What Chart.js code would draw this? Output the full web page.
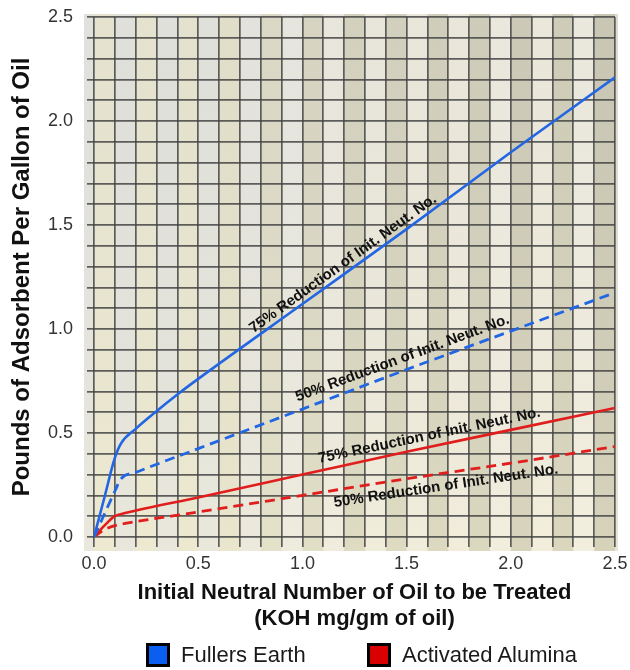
<!DOCTYPE html>
<html>
<head>
<meta charset="utf-8">
<script src="https://cdn.jsdelivr.net/npm/chart.js@4.4.0/dist/chart.umd.min.js"></script>
<style>
  html, body { margin: 0; padding: 0; background: #ffffff; }
  #wrap { position: relative; width: 630px; height: 670px; overflow: hidden; }
  #c { position: absolute; left: 0; top: 0; }
  .leg { position: absolute; top: 643px; height: 24px; display: flex; align-items: center;
         font-family: "Liberation Sans", Arial, sans-serif; font-size: 22px; color: #1a1a1a; white-space: nowrap; }
  .sw { box-sizing: border-box; width: 24px; height: 24px; border: 3px solid #000; margin-right: 11px; }
</style>
</head>
<body>
<div id="wrap">
  <canvas id="c" width="630" height="670" style="width:630px;height:670px"></canvas>
</div>
<script>
// ---------- data ----------
const fullers75X = [0, 0.05, 0.10, 0.13, 0.20, 0.30, 0.40, 0.50, 1.00, 1.50, 2.00, 2.50];
const fullers75Y = [0, 0.19, 0.38, 0.45, 0.52, 0.605, 0.685, 0.76, 1.12, 1.48, 1.85, 2.21];

const fullers50X = [0, 0.05, 0.10, 0.13, 0.20, 0.50, 1.00, 1.50, 2.00, 2.50];
const fullers50Y = [0, 0.11, 0.22, 0.28, 0.31, 0.425, 0.615, 0.805, 0.99, 1.175];

const alumina75X = [0, 0.05, 0.10, 0.15, 0.50, 1.00, 1.50, 2.00, 2.50];
const alumina75Y = [0, 0.055, 0.10, 0.115, 0.19, 0.30, 0.41, 0.515, 0.62];

const alumina50X = [0, 0.05, 0.10, 0.15, 0.50, 1.00, 1.50, 2.00, 2.50];
const alumina50Y = [0, 0.035, 0.055, 0.065, 0.12, 0.20, 0.28, 0.355, 0.435];

const xTickValues = [0, 0.5, 1.0, 1.5, 2.0, 2.5];
const xTickLabels = ['0.0', '0.5', '1.0', '1.5', '2.0', '2.5'];
const yTickValues = [0, 0.5, 1.0, 1.5, 2.0, 2.5];
const yTickLabels = ['0.0', '0.5', '1.0', '1.5', '2.0', '2.5'];

const seriesNames = ['Fullers Earth 75%', 'Fullers Earth 50%', 'Activated Alumina 75%', 'Activated Alumina 50%'];
const curveLabelTexts = [
  '75% Reduction of Init. Neut. No.',
  '50% Reduction of Init. Neut. No.',
  '75% Reduction of Init. Neut. No.',
  '50% Reduction of Init. Neut. No.'
];
const legendLabels = ['Fullers Earth', 'Activated Alumina'];

const xTitleLines = ['Initial Neutral Number of Oil to be Treated', '(KOH mg/gm of oil)'];
const yTitle = 'Pounds of Adsorbent Per Gallon of Oil';

// ---------- styles ----------
const BLUE = '#2266e4';
const RED = '#e01e1e';
const legendColors = ['#0b5ff0', '#d80000'];
const legendLeft = [146, 367];
const FONT = '"Liberation Sans", Arial, sans-serif';
// per-column background tones (stripes of the paper)
const stripeColors = [
  '#e8e5cf', '#e2e2dd', '#e8e5cf', '#e2e2dd', '#e7e4ce', '#e3e3dd', '#e3e0c9', '#e6e5de',
  '#dcdac5', '#e9e8e0', '#d8d6c1', '#ebe9df', '#d4d2bc', '#ebe9dc', '#d3d1bb', '#ece9dc',
  '#d1cfb9', '#ede9dc', '#cfcdb8', '#eeebe0', '#ccc9b4', '#eeebdd', '#cfccb6', '#eeece0',
  '#c9c6b1'
];
// label anchor: data x of label centre along the curve, perpendicular px offset (+ above)
const labelAnchorX = [1.22, 1.50, 1.62, 1.68];
const labelOffset = [9, 12, 11, -13];

function pts(xs, ys) { return xs.map((x, i) => ({ x: x, y: ys[i] })); }
function interp(xs, ys, x) {
  for (let i = 1; i < xs.length; i++) {
    if (x <= xs[i]) {
      const t = (x - xs[i - 1]) / (xs[i] - xs[i - 1]);
      return ys[i - 1] + t * (ys[i] - ys[i - 1]);
    }
  }
  return ys[ys.length - 1];
}
const seriesX = [fullers75X, fullers50X, alumina75X, alumina50X];
const seriesY = [fullers75Y, fullers50Y, alumina75Y, alumina50Y];

const bgPlugin = {
  id: 'paperBg',
  beforeDraw(chart) {
    const { ctx, chartArea: a, scales: { x } } = chart;
    const top = a.top - 3, bottom = a.bottom + 14;
    ctx.save();
    ctx.fillStyle = '#e3e3df';
    ctx.fillRect(a.left - 10, top, 10, bottom - top);
    for (let i = 0; i < stripeColors.length; i++) {
      const x0 = x.getPixelForValue(i / 10);
      const x1 = x.getPixelForValue((i + 1) / 10);
      ctx.fillStyle = stripeColors[i];
      ctx.fillRect(x0, top, x1 - x0 + 0.5, bottom - top);
    }
    ctx.fillStyle = '#e0ded3';
    ctx.fillRect(a.right, top, 3, bottom - top);
    const g = ctx.createLinearGradient(0, top, 0, bottom);
    g.addColorStop(0, 'rgba(200,200,200,0.10)');
    g.addColorStop(1, 'rgba(255,248,215,0.25)');
    ctx.fillStyle = g;
    ctx.fillRect(a.left - 10, top, a.right - a.left + 13, bottom - top);
    ctx.restore();
  }
};

const labelPlugin = {
  id: 'curveLabels',
  afterDatasetsDraw(chart) {
    const { ctx, scales: { x, y } } = chart;
    ctx.save();
    ctx.font = 'bold 15px ' + FONT;
    ctx.fillStyle = '#111';
    ctx.textAlign = 'center';
    ctx.textBaseline = 'middle';
    for (let i = 0; i < curveLabelTexts.length; i++) {
      const xv = labelAnchorX[i];
      const px = x.getPixelForValue(xv), py = y.getPixelForValue(interp(seriesX[i], seriesY[i], xv));
      const px2 = x.getPixelForValue(xv + 0.1), py2 = y.getPixelForValue(interp(seriesX[i], seriesY[i], xv + 0.1));
      const th = Math.atan2(py2 - py, px2 - px);
      const off = labelOffset[i];
      const cx = px + off * Math.sin(th), cy = py - off * Math.cos(th);
      ctx.save();
      ctx.translate(cx, cy);
      ctx.rotate(th);
      ctx.fillText(curveLabelTexts[i], 0, 0);
      ctx.restore();
    }
    ctx.restore();
  }
};

function tickCb(values, labels) {
  return function (v) {
    const i = values.findIndex(t => Math.abs(t - v) < 1e-6);
    return i >= 0 ? labels[i] : '';
  };
}

const gridStyle = { color: 'rgba(68,68,68,0.85)', lineWidth: 1.7 };

new Chart(document.getElementById('c'), {
  type: 'line',
  data: {
    datasets: [
      { label: seriesNames[0], data: pts(fullers75X, fullers75Y), borderColor: BLUE, borderWidth: 2.6 },
      { label: seriesNames[1], data: pts(fullers50X, fullers50Y), borderColor: BLUE, borderWidth: 2.8, borderDash: [10, 6] },
      { label: seriesNames[2], data: pts(alumina75X, alumina75Y), borderColor: RED, borderWidth: 2.6 },
      { label: seriesNames[3], data: pts(alumina50X, alumina50Y), borderColor: RED, borderWidth: 2.8, borderDash: [10, 6] }
    ]
  },
  options: {
    responsive: false,
    animation: false,
    devicePixelRatio: 1,
    layout: { padding: { top: 17, right: 15, bottom: 39, left: 0 } },
    elements: { point: { radius: 0 }, line: { cubicInterpolationMode: 'monotone', fill: false } },
    plugins: { legend: { display: false }, tooltip: { enabled: false } },
    scales: {
      x: {
        type: 'linear', min: 0, max: 2.5,
        border: { display: false },
        grid: Object.assign({ tickLength: 10 }, gridStyle),
        ticks: { stepSize: 0.1, maxTicksLimit: 40, autoSkip: false, maxRotation: 0, padding: 6,
                 color: '#333', font: { family: FONT, size: 18 }, callback: tickCb(xTickValues, xTickLabels) },
        title: { display: true, text: xTitleLines, color: '#111',
                 font: { family: FONT, size: 22, weight: 'bold', lineHeight: 1.14 }, padding: { top: 2, bottom: 0 } },
        afterFit(s) { s.height = 94; s.paddingLeft = 0; s.paddingRight = 0; }
      },
      y: {
        type: 'linear', min: 0, max: 2.5,
        border: { display: false },
        grid: Object.assign({ tickLength: 7 }, gridStyle),
        ticks: { stepSize: 0.1, maxTicksLimit: 40, autoSkip: false, padding: 14,
                 color: '#333', font: { family: FONT, size: 18 }, callback: tickCb(yTickValues, yTickLabels) },
        title: { display: true, text: yTitle, color: '#111',
                 font: { family: FONT, size: 24, weight: 'bold', lineHeight: 1.2 }, padding: { top: 8, bottom: 0 } },
        afterFit(s) { s.width = 94; s.paddingTop = 0; s.paddingBottom = 0; }
      }
    }
  },
  plugins: [bgPlugin, labelPlugin]
});

// HTML legend
const wrap = document.getElementById('wrap');
legendLabels.forEach((t, i) => {
  const d = document.createElement('div');
  d.className = 'leg';
  d.style.left = legendLeft[i] + 'px';
  const s = document.createElement('span');
  s.className = 'sw';
  s.style.background = legendColors[i];
  const tx = document.createElement('span');
  tx.textContent = t;
  d.appendChild(s); d.appendChild(tx);
  wrap.appendChild(d);
});
</script>
</body>
</html>
